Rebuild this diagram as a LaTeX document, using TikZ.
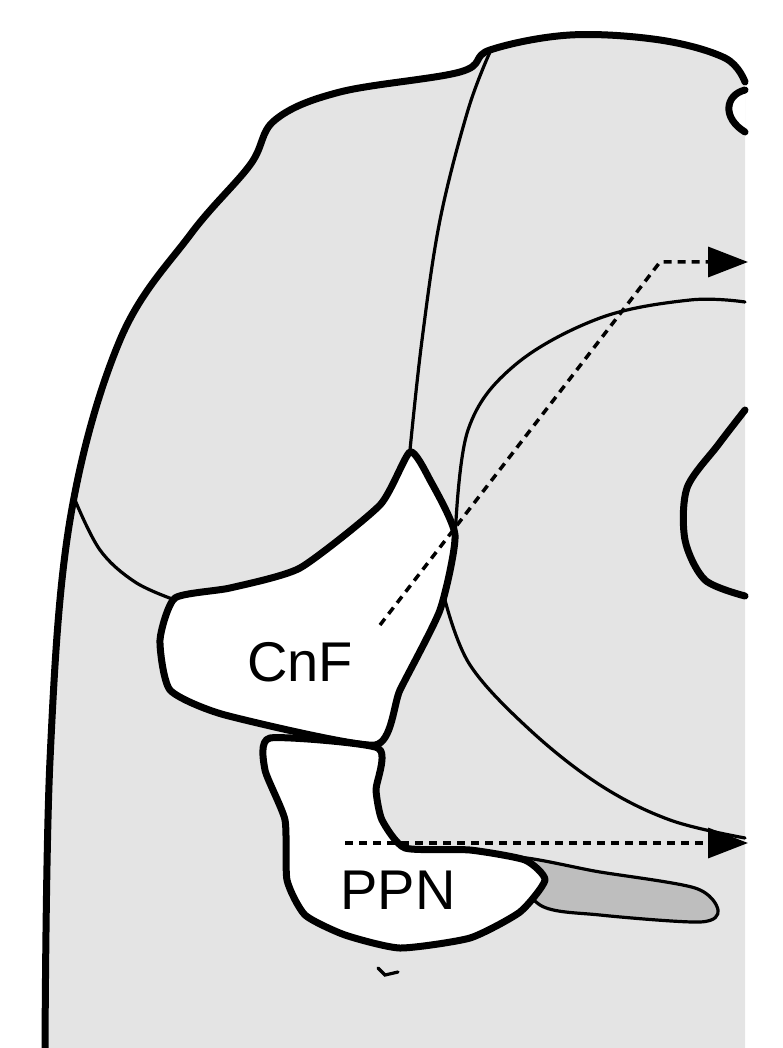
\documentclass[tikz,border=0pt]{standalone}
\usepackage{fontspec}
\setmainfont{Liberation Sans}
\usetikzlibrary{arrows.meta}
\begin{document}
\begin{tikzpicture}[x=1pt,y=-1pt,
  thick line/.style={line width=7pt,line join=round,line cap=round},
  thin line/.style={line width=3.2pt,line cap=round},
  dasharrow/.style={line width=3.5pt,dash pattern=on 8pt off 6pt,-{Triangle[length=40pt,width=30pt]}},
  lab/.style={font=\fontsize{56}{56}\selectfont}]
\useasboundingbox (0,0) rectangle (783,1048);
\definecolor{bg}{HTML}{E4E4E4}
\definecolor{tail}{HTML}{BEBEBE}
\fill[bg] plot[smooth,tension=0.6] coordinates {(45,1048)(50,760)(70,520)(120,340)(190,235)(250,165)}
  -- plot[smooth,tension=0.6] coordinates {(250,165)(275,120)(340,92)(460,72)(490,50)(570,35)(660,40)(725,58)(745,80)}
  -- (745,1048) -- cycle;
\draw[thick line] plot[smooth,tension=0.6] coordinates {(45,1048)(50,760)(70,520)(120,340)(190,235)(250,165)(275,120)(340,92)(460,72)(490,50)(570,35)(660,40)(725,58)(745,82)};
\draw[thick line,fill=white] (745,90) .. controls (725,95) and (722,118) .. (745,132);
\draw[thin line] plot[smooth,tension=0.6] coordinates {(490,52)(468,110)(440,220)(422,340)(410,450)};
\draw[thin line] plot[smooth,tension=0.6] coordinates {(75,500)(100,550)(135,582)(175,600)};
\draw[thin line] plot[smooth,tension=0.6] coordinates {(455,540)(468,430)(515,365)(600,318)(690,300)(745,302)};
\draw[thin line] plot[smooth,tension=0.6] coordinates {(445,600)(470,665)(530,730)(600,785)(670,820)(745,838)};
\draw[thick line] plot[smooth,tension=0.5] coordinates {(745,410)(718,445)(687,488)(685,540)(705,580)(745,596)};
\draw[thick line,fill=white] plot[smooth cycle,tension=0.35] coordinates {(175,598)(160,640)(170,690)(225,715)(375,745)(400,690)(440,610)(455,535)(430,480)(410,452)(380,505)(300,568)(230,588)};
\draw[thin line,fill=tail] plot[smooth cycle,tension=0.5] coordinates {(510,858)(600,872)(695,888)(718,910)(700,922)(600,915)(540,905)};
\draw[thick line,fill=white] plot[smooth cycle,tension=0.35] coordinates {(270,738)(265,770)(285,820)(287,880)(305,915)(345,935)(400,948)(470,938)(520,912)(545,880)(525,860)(470,850)(405,848)(382,820)(376,790)(378,748)};
\draw[thin line] (378,968) -- (385,975) -- (398,972);
\coordinate (s1) at (380,625); \coordinate (b1) at (660,262); \coordinate (e1) at (748,262);
\draw[dasharrow] (s1) -- (b1) -- (e1);
\coordinate (s2) at (345,843); \coordinate (e2) at (748,843);
\draw[dasharrow] (s2) -- (e2);
\node[lab] (cnf) at (300,662) {CnF};
\node[lab] (ppn) at (398,890) {PPN};
\end{tikzpicture}
\end{document}
